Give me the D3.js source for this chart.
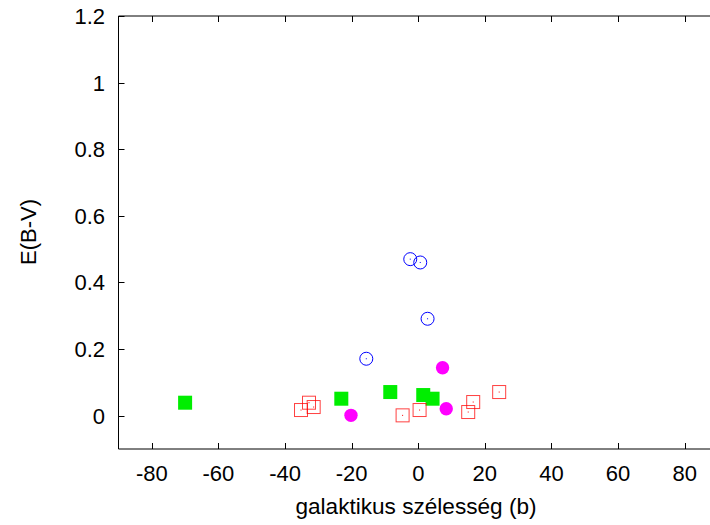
<!DOCTYPE html>
<html>
<head>
<meta charset="UTF-8">
<script src="https://d3js.org/d3.v7.min.js"></script>
<style>
  body { margin: 0; background: #fff; }
  text { font-family: "Liberation Sans", Arial, sans-serif; }
</style>
</head>
<body>
<svg width="710" height="525"></svg>
<script>
// galactic latitude b and colour excess E(B-V), per group
const blueB = [-2.4, 0.6, 2.8, -15.6];
const blueE = [0.470, 0.460, 0.291, 0.171];
const magentaB = [7.3, 8.4, -20.2];
const magentaE = [0.144, 0.021, 0.001];
const greenB = [-70, -23.1, -8.4, 1.5, 4.3];
const greenE = [0.039, 0.051, 0.071, 0.062, 0.051];
const redB = [-35.2, -32.8, -31.4, -4.7, 0.4, 15.0, 16.5, 24.3];
const redE = [0.017, 0.039, 0.026, 0.001, 0.017, 0.011, 0.041, 0.071];
const xTicks = [-80, -60, -40, -20, 0, 20, 40, 60, 80];
const yTicks = [0, 0.2, 0.4, 0.6, 0.8, 1, 1.2];

const svg = d3.select("svg");
const mLeft = 118.5, mRight = 718, mTop = 16, mBottom = 449;

const x = d3.scaleLinear().domain([-90, 90]).range([mLeft, mRight]);
const y = d3.scaleLinear().domain([-0.1, 1.2]).range([mBottom, mTop]);

svg.append("path")
  .attr("d", `M${mRight},${mTop}H${mLeft}V${mBottom}H${mRight}`)
  .attr("fill", "none").attr("stroke", "#000").attr("stroke-width", 1);

// ticks (inward, mirrored top/bottom)
const tk = svg.append("g").attr("stroke", "#000").attr("stroke-width", 1);
xTicks.forEach(v => {
  const px = Math.round(x(v)) + 0.5;
  tk.append("line").attr("x1", px).attr("x2", px).attr("y1", mBottom).attr("y2", mBottom - 6);
  tk.append("line").attr("x1", px).attr("x2", px).attr("y1", mTop).attr("y2", mTop + 6);
});
yTicks.forEach(v => {
  const py = Math.round(y(v)) + 0.5;
  tk.append("line").attr("x1", mLeft).attr("x2", mLeft + 6).attr("y1", py).attr("y2", py);
});

svg.append("g").selectAll("text").data(xTicks).join("text")
  .attr("x", d => x(d)).attr("y", 481)
  .attr("text-anchor", "middle").attr("font-size", 22)
  .text(d => d);

svg.append("g").selectAll("text").data(yTicks).join("text")
  .attr("x", 105).attr("y", d => y(d) + 8)
  .attr("text-anchor", "end").attr("font-size", 22)
  .text(d => d);

svg.append("text").attr("x", 416).attr("y", 514)
  .attr("text-anchor", "middle").attr("font-size", 22.6)
  .text("galaktikus szélesség (b)");

svg.append("text")
  .attr("transform", "translate(36,232) rotate(-90)")
  .attr("text-anchor", "middle").attr("font-size", 22)
  .text("E(B-V)");

const pts = svg.append("g");

// green filled squares
pts.append("g").selectAll("rect").data(d3.zip(greenB, greenE)).join("rect")
  .attr("x", d => x(d[0]) - 7).attr("y", d => y(d[1]) - 7)
  .attr("width", 14).attr("height", 14).attr("fill", "#00ee00");

// magenta filled circles
pts.append("g").selectAll("circle").data(d3.zip(magentaB, magentaE)).join("circle")
  .attr("cx", d => x(d[0])).attr("cy", d => y(d[1])).attr("r", 6.7)
  .attr("fill", "#ff00ff");

// red open squares with centre dot
const red = pts.append("g").selectAll("g").data(d3.zip(redB, redE)).join("g")
  .attr("transform", d => `translate(${x(d[0])},${y(d[1])})`);
red.append("rect").attr("x", -6.5).attr("y", -6.5).attr("width", 13).attr("height", 13)
  .attr("fill", "none").attr("stroke", "#ff0000").attr("stroke-opacity", 0.75).attr("stroke-width", 1);
red.append("rect").attr("x", -0.5).attr("y", -0.5).attr("width", 1).attr("height", 1).attr("fill", "#ff0000");

// blue open circles with centre dot
const blue = pts.append("g").selectAll("g").data(d3.zip(blueB, blueE)).join("g")
  .attr("transform", d => `translate(${x(d[0])},${y(d[1])})`);
blue.append("circle").attr("r", 6.5)
  .attr("fill", "none").attr("stroke", "#0000ff").attr("stroke-width", 1);
blue.append("rect").attr("x", -0.5).attr("y", -0.5).attr("width", 1).attr("height", 1).attr("fill", "#0000ff");
</script>
</body>
</html>
